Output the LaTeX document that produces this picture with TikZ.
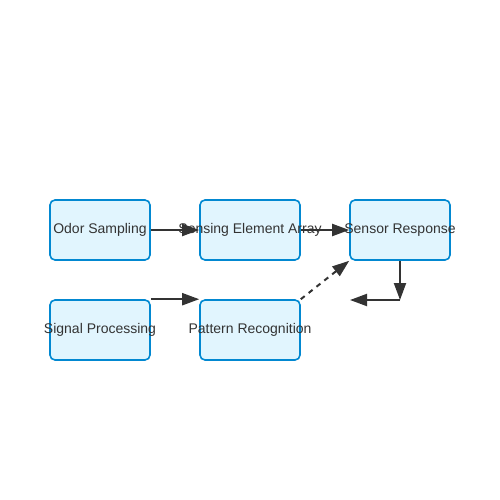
\documentclass[tikz,border=0pt]{standalone}
\usepackage{fontspec}
\setmainfont{Liberation Sans}
\usetikzlibrary{arrows.meta}
\definecolor{boxfill}{HTML}{E1F5FE}
\definecolor{boxdraw}{HTML}{0288D1}
\definecolor{ink}{HTML}{333333}
\newcommand{\boxtext}[1]{\raisebox{-1.5pt}{\makebox[0pt][c]{#1}}}
\begin{document}
\begin{tikzpicture}[x=1pt,y=-1pt,
  box/.style={draw=boxdraw,fill=boxfill,line width=1.6pt,rounded corners=5pt,
    minimum width=100pt,minimum height=60pt,inner sep=0pt,text=ink,
    font=\fontsize{14pt}{16pt}\selectfont},
  conn/.style={draw=ink,line width=2pt,-{Triangle[length=17pt,width=12pt]}}]
\useasboundingbox (0,0) rectangle (500,500);
\node[box] (odor) at (100,230) {\boxtext{Odor Sampling}};
\node[box] (sens) at (250,230) {\boxtext{Sensing Element Array}};
\node[box] (resp) at (400,230) {\boxtext{Sensor Response}};
\node[box] (sig) at (100,330) {\boxtext{Signal Processing}};
\node[box] (pat) at (250,330) {\boxtext{Pattern Recognition}};
\coordinate (turn) at (400,300);
\coordinate (tend) at (350,300);
\draw[conn] (odor.east) -- (sens.west);
\draw[conn] (sens.east) -- (resp.west);
\draw[conn] (resp.south) -- (turn);
\draw[conn] (turn) -- (tend);
\draw[conn] (sig.north east) -- (pat.north west);
\draw[conn,dash pattern=on 5pt off 5pt] (pat.north east) -- (resp.south west);
\end{tikzpicture}
\end{document}
